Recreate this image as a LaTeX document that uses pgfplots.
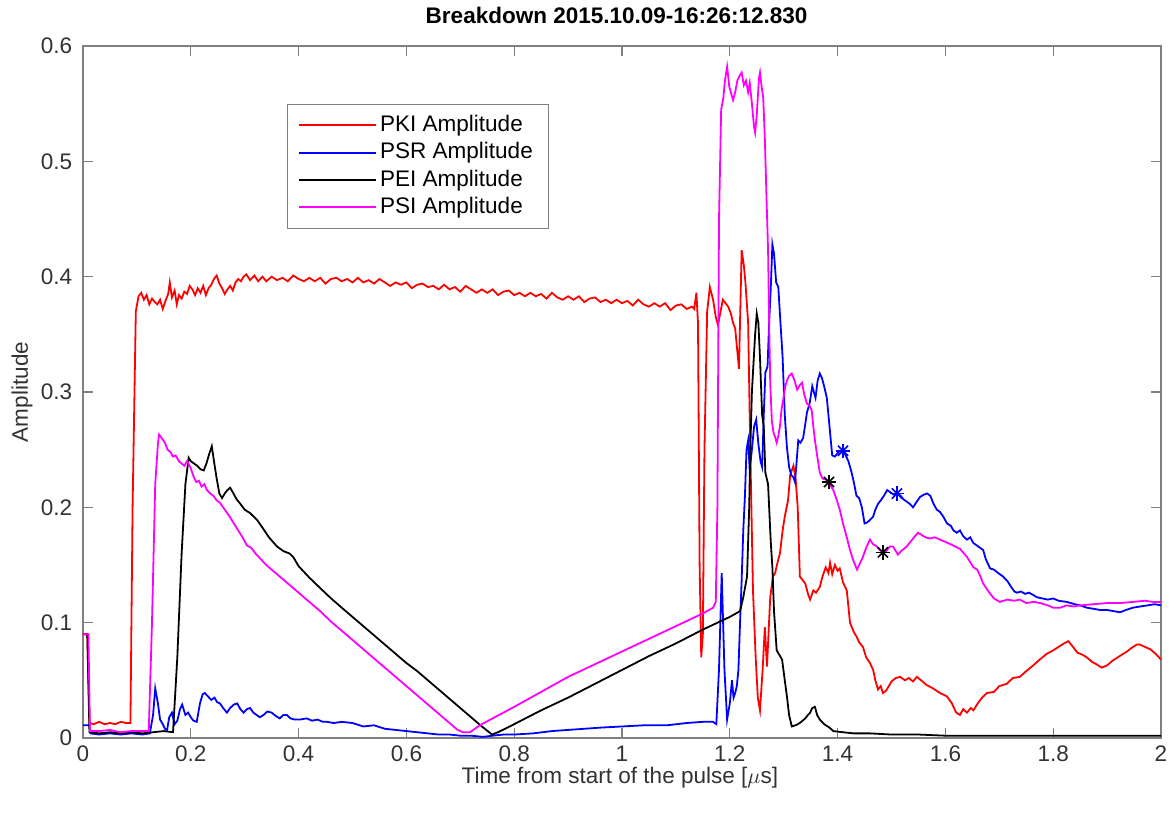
\documentclass[border=0pt]{standalone}
\usepackage{pgfplots}
\pgfplotsset{compat=1.18}
\usepackage{fontspec}
\setmainfont{Liberation Sans}
\definecolor{axgray}{RGB}{128,128,128}
\definecolor{txtgray}{RGB}{50,50,50}
\definecolor{mred}{RGB}{255,0,0}
\definecolor{mblue}{RGB}{0,0,255}
\definecolor{mmag}{RGB}{255,0,255}
\begin{document}
\fontsize{11.3}{13.5}\selectfont
\begin{tikzpicture}
\useasboundingbox (-41.5bp,-38.5bp) rectangle (543bp,369bp);
\begin{axis}[
  scale only axis,
  width=539bp, height=346bp,
  xmin=0, xmax=2, ymin=0, ymax=0.6,
  xtick={0,0.2,...,2.01}, ytick={0,0.1,...,0.61},
  xticklabels={0,0.2,0.4,0.6,0.8,1,1.2,1.4,1.6,1.8,2},
  yticklabels={0,0.1,0.2,0.3,0.4,0.5,0.6},
  /pgf/number format/assume math mode=true,
  tick align=inside,
  major tick length=5bp,
  axis line style={axgray, line width=0.8pt},
  tick style={axgray, line width=0.6pt},
  ticklabel style={font=\fontsize{11.3}{13.5}\selectfont, text=txtgray},
  xticklabel style={yshift=0bp},
  yticklabel style={xshift=-1.5bp},
  title={Breakdown 2015.10.09-16:26:12.830},
  every axis title/.style={at={(axis description cs:0.495,1.0448)}, anchor=center, font=\fontsize{11.3}{13.5}\selectfont\bfseries},
  xlabel={Time from start of the pulse [$\mu$s]},
  xlabel style={at={(axis description cs:0.498,-0.057)}, anchor=center, inner sep=0pt, font=\fontsize{11.3}{13.5}\selectfont, text=txtgray},
  ylabel={Amplitude},
  ylabel style={at={(axis description cs:-0.0565,0.5)}, anchor=center, font=\fontsize{11.3}{13.5}\selectfont, text=txtgray},
  legend style={at={(axis description cs:0.189,0.916)}, anchor=north west, draw=axgray, fill=white,
    font=\fontsize{11.3}{13.5}\selectfont, inner xsep=6bp, inner ysep=3.5bp, row sep=0bp,
    nodes={inner ysep=0.5bp, inner xsep=2bp, text height=9.5bp, text depth=3.2bp}},
  legend cell align=left,
  legend image code/.code={\path[#1, draw=none, fill] (0bp,-0.5bp) rectangle (38.5bp,0.5bp);},
  every axis plot/.append style={line width=0.9pt},
]
% PKI (red)
\addplot[color=mred] table {
0 0.09
0.008 0.09
0.012 0.013
0.02 0.012
0.03 0.014
0.04 0.012
0.05 0.013
0.06 0.012
0.07 0.014
0.08 0.013
0.088 0.013
0.092 0.2
0.098 0.37
0.103 0.383
0.108 0.386
0.113 0.38
0.118 0.384
0.123 0.376
0.128 0.381
0.133 0.378
0.138 0.376
0.143 0.38
0.148 0.372
0.153 0.379
0.158 0.385
0.161 0.395
0.165 0.382
0.17 0.388
0.174 0.376
0.178 0.384
0.183 0.381
0.188 0.387
0.193 0.385
0.198 0.392
0.203 0.389
0.208 0.384
0.213 0.39
0.218 0.386
0.223 0.392
0.228 0.384
0.233 0.39
0.238 0.393
0.243 0.398
0.248 0.401
0.253 0.394
0.258 0.39
0.263 0.385
0.268 0.389
0.273 0.392
0.278 0.388
0.283 0.395
0.288 0.398
0.293 0.396
0.298 0.4
0.303 0.402
0.31 0.397
0.318 0.401
0.325 0.396
0.333 0.4
0.34 0.396
0.35 0.400
0.36 0.397
0.37 0.399
0.38 0.396
0.39 0.401
0.40 0.398
0.41 0.396
0.42 0.399
0.43 0.396
0.44 0.399
0.45 0.394
0.46 0.398
0.47 0.399
0.48 0.396
0.49 0.398
0.50 0.395
0.51 0.399
0.52 0.395
0.53 0.397
0.54 0.394
0.55 0.398
0.56 0.395
0.57 0.392
0.58 0.395
0.59 0.393
0.60 0.395
0.61 0.390
0.62 0.393
0.63 0.394
0.64 0.391
0.65 0.392
0.66 0.389
0.67 0.393
0.68 0.389
0.69 0.391
0.70 0.387
0.71 0.392
0.72 0.389
0.73 0.386
0.74 0.389
0.75 0.386
0.76 0.389
0.77 0.384
0.78 0.387
0.79 0.388
0.80 0.384
0.81 0.386
0.82 0.383
0.83 0.386
0.84 0.383
0.85 0.385
0.86 0.381
0.87 0.386
0.88 0.382
0.89 0.380
0.90 0.383
0.91 0.380
0.92 0.383
0.93 0.378
0.94 0.381
0.95 0.382
0.96 0.378
0.97 0.380
0.98 0.377
0.99 0.380
1.00 0.377
1.01 0.379
1.02 0.375
1.03 0.380
1.04 0.376
1.05 0.374
1.06 0.377
1.07 0.374
1.08 0.377
1.09 0.371
1.10 0.375
1.11 0.376
1.12 0.372
1.13 0.374
1.134 0.372
1.138 0.386
1.141 0.36
1.144 0.15
1.147 0.07
1.15 0.09
1.153 0.25
1.158 0.37
1.163 0.391
1.169 0.38
1.174 0.365
1.178 0.358
1.183 0.37
1.187 0.38
1.192 0.377
1.197 0.374
1.202 0.368
1.206 0.36
1.21 0.355
1.214 0.335
1.217 0.32
1.222 0.423
1.226 0.41
1.229 0.395
1.234 0.36
1.238 0.25
1.243 0.128
1.248 0.07
1.252 0.035
1.256 0.024
1.261 0.06
1.265 0.096
1.269 0.062
1.275 0.122
1.28 0.14
1.284 0.143
1.29 0.155
1.293 0.16
1.298 0.18
1.302 0.192
1.308 0.206
1.312 0.228
1.318 0.236
1.322 0.225
1.326 0.2
1.33 0.14
1.335 0.137
1.34 0.134
1.345 0.125
1.349 0.12
1.355 0.128
1.36 0.126
1.367 0.131
1.372 0.14
1.378 0.148
1.383 0.143
1.386 0.152
1.39 0.142
1.395 0.15
1.4 0.145
1.404 0.147
1.41 0.135
1.417 0.128
1.423 0.1
1.43 0.092
1.435 0.088
1.44 0.083
1.447 0.079
1.453 0.07
1.46 0.065
1.466 0.059
1.47 0.05
1.475 0.042
1.48 0.045
1.484 0.039
1.49 0.041
1.495 0.045
1.5 0.049
1.508 0.052
1.516 0.053
1.525 0.05
1.532 0.052
1.54 0.049
1.547 0.053
1.555 0.05
1.565 0.046
1.577 0.043
1.59 0.039
1.603 0.036
1.612 0.03
1.62 0.022
1.627 0.02
1.633 0.025
1.64 0.022
1.647 0.026
1.652 0.024
1.66 0.03
1.668 0.035
1.677 0.039
1.69 0.04
1.7 0.045
1.714 0.047
1.725 0.052
1.738 0.053
1.75 0.058
1.763 0.063
1.775 0.068
1.788 0.073
1.8 0.076
1.81 0.079
1.82 0.082
1.828 0.084
1.835 0.08
1.845 0.074
1.855 0.072
1.862 0.07
1.872 0.066
1.88 0.064
1.89 0.061
1.9 0.063
1.91 0.067
1.92 0.07
1.93 0.073
1.937 0.075
1.945 0.078
1.955 0.081
1.961 0.081
1.97 0.079
1.98 0.077
1.99 0.073
2.0 0.068
};
\addlegendentry{PKI Amplitude}
% PSR (blue)
\addplot[color=mblue] table {
0 0.011
0.012 0.011
0.014 0.004
0.03 0.003
0.05 0.004
0.07 0.003
0.09 0.004
0.11 0.003
0.124 0.004
0.13 0.02
0.134 0.043
0.139 0.03
0.143 0.016
0.148 0.012
0.152 0.008
0.156 0.007
0.16 0.018
0.165 0.022
0.17 0.012
0.175 0.015
0.18 0.025
0.184 0.029
0.19 0.02
0.195 0.022
0.2 0.018
0.205 0.015
0.211 0.014
0.217 0.03
0.222 0.038
0.226 0.039
0.232 0.036
0.238 0.033
0.244 0.035
0.249 0.031
0.254 0.03
0.26 0.026
0.267 0.022
0.273 0.026
0.28 0.029
0.286 0.03
0.292 0.025
0.298 0.022
0.304 0.025
0.31 0.026
0.316 0.022
0.322 0.02
0.328 0.018
0.335 0.02
0.342 0.023
0.35 0.022
0.358 0.019
0.365 0.017
0.372 0.02
0.378 0.02
0.385 0.017
0.393 0.016
0.403 0.016
0.415 0.017
0.425 0.015
0.435 0.016
0.445 0.014
0.453 0.014
0.465 0.013
0.48 0.014
0.5 0.013
0.52 0.01
0.54 0.011
0.56 0.008
0.58 0.007
0.6 0.006
0.62 0.005
0.64 0.004
0.66 0.003
0.68 0.003
0.7 0.002
0.72 0.002
0.742 0.001
0.76 0.002
0.78 0.003
0.8 0.003
0.835 0.004
0.87 0.006
0.9 0.007
0.93 0.008
0.96 0.009
1.0 0.01
1.04 0.011
1.083 0.011
1.12 0.013
1.15 0.014
1.169 0.014
1.175 0.012
1.18 0.06
1.185 0.143
1.19 0.06
1.195 0.016
1.2 0.03
1.204 0.05
1.207 0.035
1.21 0.039
1.213 0.045
1.216 0.059
1.219 0.1
1.222 0.137
1.225 0.18
1.228 0.209
1.231 0.25
1.234 0.258
1.237 0.232
1.241 0.25
1.245 0.27
1.249 0.276
1.253 0.255
1.257 0.24
1.26 0.235
1.263 0.28
1.266 0.317
1.27 0.322
1.273 0.36
1.276 0.39
1.279 0.428
1.282 0.42
1.286 0.395
1.29 0.391
1.294 0.36
1.298 0.33
1.302 0.28
1.306 0.252
1.31 0.235
1.314 0.228
1.318 0.226
1.321 0.222
1.324 0.24
1.327 0.258
1.331 0.256
1.336 0.26
1.34 0.272
1.343 0.282
1.348 0.29
1.353 0.305
1.356 0.3
1.359 0.295
1.363 0.31
1.367 0.316
1.371 0.312
1.375 0.305
1.38 0.295
1.385 0.27
1.39 0.245
1.395 0.244
1.4 0.247
1.405 0.249
1.41 0.249
1.415 0.245
1.42 0.24
1.425 0.232
1.43 0.222
1.435 0.21
1.44 0.208
1.445 0.2
1.45 0.186
1.455 0.187
1.46 0.189
1.466 0.192
1.47 0.198
1.475 0.203
1.48 0.206
1.486 0.21
1.492 0.215
1.498 0.213
1.504 0.211
1.51 0.212
1.517 0.21
1.522 0.207
1.528 0.205
1.534 0.203
1.54 0.2
1.547 0.205
1.553 0.209
1.56 0.211
1.566 0.212
1.572 0.21
1.578 0.203
1.584 0.198
1.59 0.196
1.596 0.192
1.603 0.186
1.61 0.184
1.615 0.18
1.621 0.178
1.627 0.18
1.633 0.175
1.64 0.172
1.646 0.174
1.652 0.169
1.658 0.167
1.664 0.165
1.67 0.163
1.675 0.155
1.683 0.147
1.69 0.146
1.698 0.143
1.707 0.14
1.715 0.136
1.722 0.131
1.728 0.127
1.733 0.126
1.74 0.127
1.748 0.125
1.755 0.126
1.763 0.124
1.77 0.122
1.78 0.121
1.79 0.12
1.8 0.121
1.81 0.119
1.825 0.118
1.84 0.116
1.85 0.115
1.862 0.113
1.875 0.112
1.887 0.111
1.9 0.111
1.912 0.11
1.924 0.109
1.935 0.111
1.948 0.113
1.961 0.114
1.975 0.115
1.988 0.116
2.0 0.115
};
\addlegendentry{PSR Amplitude}
% PEI (black)
\addplot[color=black] table {
0 0.09
0.008 0.09
0.012 0.005
0.03 0.004
0.05 0.005
0.07 0.004
0.09 0.005
0.11 0.004
0.13 0.005
0.15 0.006
0.167 0.005
0.175 0.07
0.183 0.16
0.19 0.22
0.196 0.243
0.2 0.24
0.206 0.238
0.212 0.236
0.218 0.233
0.224 0.232
0.229 0.238
0.234 0.246
0.239 0.253
0.243 0.24
0.248 0.225
0.253 0.212
0.258 0.208
0.263 0.212
0.268 0.215
0.273 0.217
0.278 0.213
0.285 0.207
0.292 0.203
0.3 0.198
0.31 0.195
0.323 0.189
0.335 0.181
0.345 0.174
0.36 0.166
0.372 0.162
0.383 0.16
0.39 0.157
0.4 0.149
0.42 0.139
0.44 0.13
0.458 0.122
0.48 0.113
0.5 0.105
0.52 0.097
0.54 0.089
0.56 0.081
0.58 0.073
0.6 0.065
0.62 0.058
0.64 0.05
0.66 0.042
0.68 0.034
0.7 0.026
0.72 0.018
0.74 0.01
0.759 0.003
0.77 0.005
0.8 0.012
0.85 0.024
0.9 0.035
0.95 0.047
1.0 0.059
1.05 0.071
1.1 0.082
1.15 0.094
1.2 0.105
1.219 0.11
1.225 0.122
1.232 0.14
1.236 0.2
1.238 0.25
1.241 0.3
1.243 0.317
1.247 0.35
1.25 0.368
1.253 0.36
1.256 0.33
1.26 0.28
1.263 0.27
1.266 0.23
1.271 0.22
1.276 0.17
1.279 0.148
1.282 0.11
1.287 0.076
1.292 0.072
1.297 0.068
1.302 0.05
1.306 0.036
1.31 0.02
1.315 0.01
1.322 0.011
1.33 0.013
1.335 0.015
1.34 0.017
1.345 0.02
1.349 0.022
1.353 0.026
1.358 0.027
1.362 0.02
1.367 0.016
1.375 0.012
1.385 0.009
1.392 0.006
1.41 0.005
1.43 0.004
1.46 0.004
1.5 0.003
1.55 0.003
1.6 0.002
1.7 0.002
1.8 0.002
1.9 0.002
2.0 0.002
};
\addlegendentry{PEI Amplitude}
% PSI (magenta)
\addplot[color=mmag] table {
0 0.09
0.01 0.09
0.013 0.006
0.03 0.006
0.05 0.007
0.07 0.005
0.09 0.006
0.11 0.006
0.122 0.006
0.128 0.1
0.134 0.22
0.139 0.255
0.141 0.263
0.146 0.26
0.152 0.256
0.157 0.25
0.162 0.248
0.167 0.244
0.172 0.245
0.178 0.24
0.183 0.238
0.188 0.236
0.193 0.24
0.199 0.235
0.205 0.227
0.21 0.222
0.215 0.223
0.22 0.218
0.225 0.22
0.23 0.215
0.236 0.212
0.242 0.21
0.248 0.206
0.254 0.204
0.26 0.2
0.266 0.196
0.272 0.192
0.28 0.186
0.288 0.18
0.296 0.174
0.304 0.167
0.312 0.165
0.32 0.16
0.33 0.155
0.34 0.15
0.35 0.146
0.365 0.14
0.38 0.134
0.4 0.126
0.42 0.118
0.44 0.11
0.46 0.101
0.48 0.093
0.5 0.085
0.52 0.077
0.54 0.069
0.56 0.061
0.58 0.053
0.6 0.045
0.62 0.037
0.64 0.029
0.66 0.021
0.68 0.013
0.695 0.007
0.705 0.005
0.718 0.005
0.73 0.009
0.74 0.012
0.8 0.027
0.85 0.04
0.9 0.053
0.95 0.064
1.0 0.075
1.05 0.086
1.1 0.097
1.15 0.108
1.169 0.113
1.174 0.118
1.177 0.2
1.18 0.45
1.184 0.545
1.188 0.555
1.191 0.57
1.195 0.582
1.199 0.565
1.203 0.558
1.206 0.553
1.21 0.56
1.214 0.57
1.218 0.574
1.222 0.577
1.226 0.566
1.23 0.57
1.234 0.56
1.237 0.568
1.241 0.55
1.245 0.53
1.247 0.525
1.25 0.54
1.254 0.572
1.256 0.577
1.259 0.565
1.262 0.555
1.265 0.52
1.268 0.47
1.271 0.423
1.273 0.36
1.275 0.308
1.278 0.275
1.281 0.265
1.284 0.261
1.287 0.256
1.29 0.262
1.293 0.27
1.296 0.285
1.299 0.293
1.303 0.305
1.306 0.31
1.31 0.314
1.315 0.316
1.32 0.31
1.325 0.302
1.33 0.306
1.334 0.308
1.338 0.298
1.343 0.29
1.348 0.288
1.352 0.284
1.355 0.27
1.358 0.258
1.362 0.245
1.367 0.23
1.372 0.225
1.378 0.224
1.384 0.222
1.388 0.218
1.392 0.215
1.398 0.207
1.404 0.198
1.41 0.186
1.417 0.174
1.423 0.163
1.429 0.154
1.436 0.146
1.441 0.151
1.447 0.157
1.453 0.165
1.46 0.172
1.466 0.168
1.473 0.166
1.478 0.163
1.484 0.161
1.49 0.162
1.497 0.166
1.503 0.166
1.508 0.162
1.512 0.159
1.518 0.162
1.523 0.164
1.528 0.166
1.535 0.17
1.542 0.174
1.549 0.178
1.556 0.176
1.563 0.174
1.571 0.173
1.58 0.174
1.59 0.172
1.6 0.17
1.614 0.167
1.627 0.164
1.64 0.157
1.652 0.148
1.659 0.146
1.665 0.14
1.67 0.134
1.68 0.127
1.69 0.121
1.701 0.118
1.715 0.12
1.728 0.119
1.738 0.12
1.75 0.117
1.763 0.118
1.776 0.117
1.79 0.115
1.8 0.113
1.813 0.113
1.825 0.115
1.838 0.114
1.85 0.115
1.875 0.116
1.9 0.117
1.925 0.117
1.948 0.118
1.97 0.119
1.985 0.118
2.0 0.118
};
\addlegendentry{PSI Amplitude}
% markers
\addplot[black, only marks, mark=+, mark size=3.6bp, mark options={line width=0.8pt}, forget plot] table {
1.384 0.222
1.484 0.161
};
\addplot[black, only marks, mark=x, mark size=3.6bp, mark options={line width=0.8pt}, forget plot] table {
1.384 0.222
1.484 0.161
};
\addplot[mblue, only marks, mark=+, mark size=3.6bp, mark options={line width=0.8pt}, forget plot] table {
1.41 0.249
1.51 0.212
};
\addplot[mblue, only marks, mark=x, mark size=3.6bp, mark options={line width=0.8pt}, forget plot] table {
1.41 0.249
1.51 0.212
};
\end{axis}
\end{tikzpicture}
\end{document}
